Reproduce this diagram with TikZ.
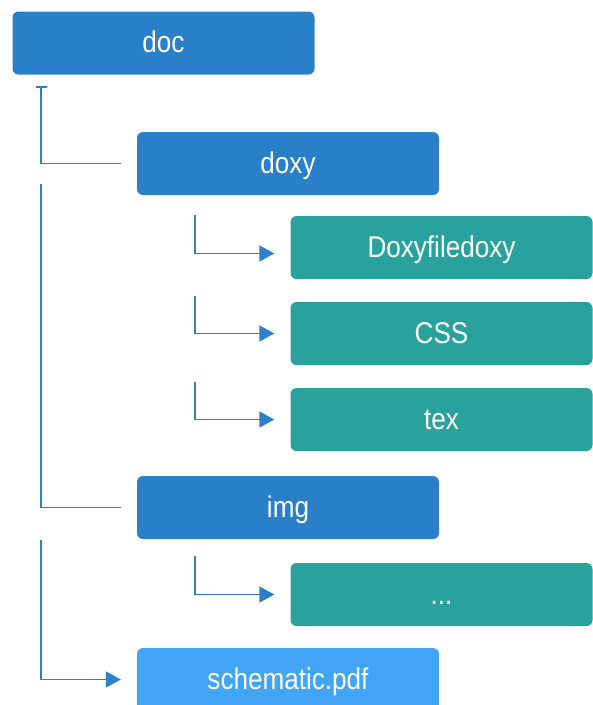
\documentclass[tikz,border=0pt]{standalone}
\usepackage{fontspec}
\setmainfont{Liberation Sans}[FakeStretch=0.87]
\usetikzlibrary{arrows.meta}
\definecolor{dirblue}{HTML}{2A7FC9}
\definecolor{fileteal}{HTML}{29A19C}
\definecolor{pdfblue}{HTML}{42A4F4}
\definecolor{linkblue}{HTML}{2B7FCB}
\tikzset{
  entry/.style={rectangle, rounded corners=6pt, minimum width=302pt,
    minimum height=63pt, inner sep=0pt, text=white,
    text height=21pt, text depth=2pt,
    font=\fontsize{30}{34}\selectfont},
  folder/.style={entry, fill=dirblue},
  leaf/.style={entry, fill=fileteal},
  pdffile/.style={entry, fill=pdfblue},
  link/.style={draw=linkblue, line width=1.5pt},
  linkarrow/.style={link, -{Triangle[length=15pt,width=16pt]}, shorten >=16pt},
}
\begin{document}
\begin{tikzpicture}[x=1pt,y=-1pt]
  \useasboundingbox (0,0) rectangle (593,705);
  \begin{scope}
  \clip (0,0) rectangle (593,705);

  % directory entries
  \node[folder] (doc)  at (163.5,43)  {doc};
  \node[folder] (doxy) at (288,163.5) {doxy};
  \node[leaf]   (dfile) at (441.5,247.5) {Doxyfiledoxy};
  \node[leaf]   (css)  at (441.5,333.5) {CSS};
  \node[leaf]   (tex)  at (441.5,419.5) {tex};
  \node[folder] (img)  at (288,507.5) {img};
  \node[leaf]   (more) at (441.5,594.5) {...};
  \node[pdffile] (pdf) at (288,679.5) {schematic.pdf};

  % starting points of the tree lines
  \coordinate (t1) at (41,86);
  \coordinate (t2) at (41,184);
  \coordinate (t3) at (41,540);
  \coordinate (d1) at (195,215);
  \coordinate (d2) at (195,296);
  \coordinate (d3) at (195,382);
  \coordinate (i1) at (195,556);

  % top level branches
  \draw[link, {Bar[width=11pt,line width=1.5pt]}-, shorten >=16pt] (t1) |- (doxy.west);
  \draw[link, shorten >=16pt] (t2) |- (img.west);
  \draw[linkarrow] (t3) |- (pdf.west);

  % contents of doxy
  \draw[linkarrow] (d1) |- ([yshift=-6pt]dfile.west);
  \draw[linkarrow] (d2) |- (css.west);
  \draw[linkarrow] (d3) |- (tex.west);

  % contents of img
  \draw[linkarrow] (i1) |- (more.west);
  \end{scope}
\end{tikzpicture}
\end{document}
